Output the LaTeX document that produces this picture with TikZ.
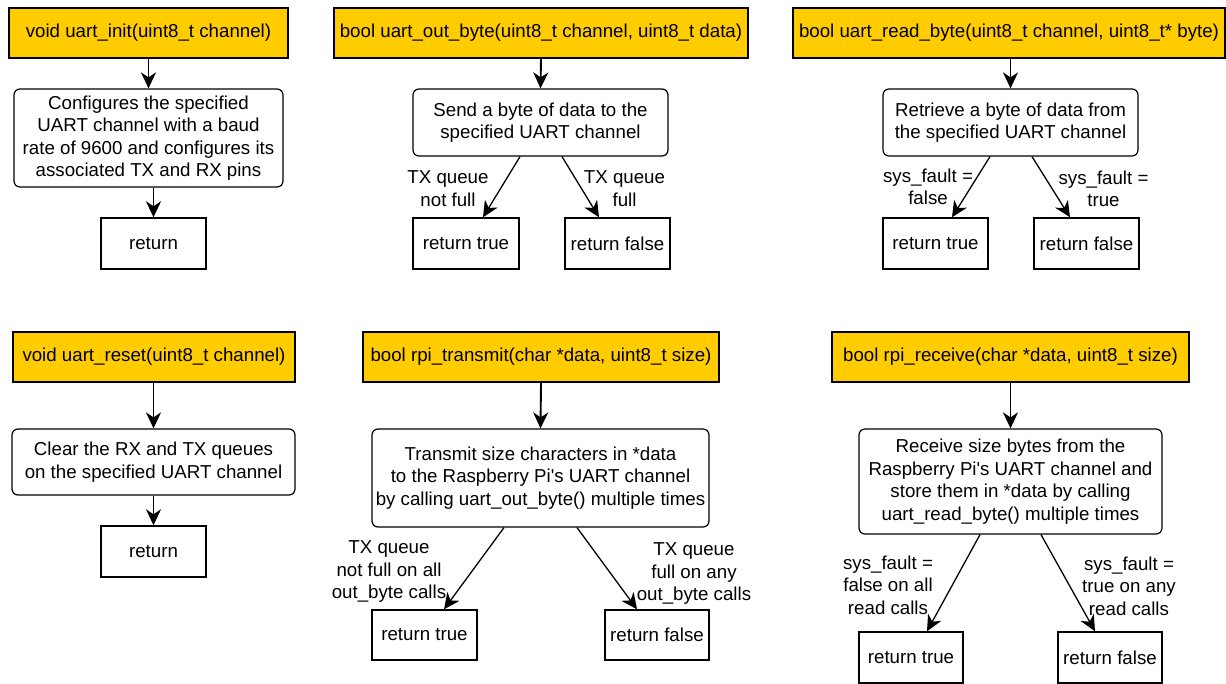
\documentclass[tikz,border=0pt]{standalone}
\usepackage{fontspec}
\setmainfont{Liberation Sans}
\usetikzlibrary{arrows.meta}
\definecolor{hdr}{HTML}{FFCC00}
\tikzset{
  every node/.style={font=\fontsize{18.7}{22.5}\selectfont, inner sep=0pt, align=center},
  yel/.style={draw=black, fill=hdr, line width=1.4pt, minimum height=50pt},
  rbox/.style={draw=black, fill=white, rounded corners=6pt, line width=1.2pt},
  ret/.style={draw=black, fill=white, line width=1.4pt, minimum height=51pt},
  lbl/.style={},
  varr/.style={line width=1.9pt, -{Stealth[length=16pt,width=15pt,inset=5pt]}},
  darr/.style={line width=1.3pt, -{Stealth[length=16pt,width=15pt,inset=5pt]}}
}
\begin{document}
\begin{tikzpicture}[x=1pt,y=-1pt]
\useasboundingbox (0,0) rectangle (1226,684);
\fill[white] (0,0) rectangle (1226,684);
% A
\node[yel, minimum width=279pt] (A1) at (148.5,33) {void uart\_init(uint8\_t channel)};
\node[rbox, minimum width=269pt, minimum height=98pt] (A2) at (148.5,138) {Configures the specified\\UART channel with a baud\\rate of 9600 and configures its\\associated TX and RX pins};
\node[ret, minimum width=105pt] (A3) at (153.5,243.5) {return};
\draw[varr] (A1.south) -- (A2.north);
\draw[varr] (A2.south -| A3.north) -- (A3.north);
% B
\node[yel, minimum width=414pt] (B1) at (541,33) {bool uart\_out\_byte(uint8\_t channel, uint8\_t data)};
\node[rbox, minimum width=255pt, minimum height=67pt] (B2) at (540.5,122.5) {Send a byte of data to the\\specified UART channel};
\node[ret, minimum width=106pt] (Bt) at (466,243.5) {return true};
\node[ret, minimum width=105pt] (Bf) at (617.5,243.5) {return false};
\draw[varr] (B1.south) -- (B2.north);
\draw[darr] ([xshift=-20.5pt]B2.south) -- ([xshift=17pt]Bt.north);
\draw[darr] ([xshift=21.5pt]B2.south) -- ([xshift=-18.5pt]Bf.north);
\node[lbl] (Bl) at (448,188.5) {TX queue\\not full};
\node[lbl] (Br) at (624.5,188.5) {TX queue\\full};
% C
\node[yel, minimum width=432pt] (C1) at (1009,33) {bool uart\_read\_byte(uint8\_t channel, uint8\_t* byte)};
\node[rbox, minimum width=255pt, minimum height=67pt] (C2) at (1010.5,122.5) {Retrieve a byte of data from\\the specified UART channel};
\node[ret, minimum width=105pt] (Ct) at (935.5,243.5) {return true};
\node[ret, minimum width=105pt] (Cf) at (1086.5,243.5) {return false};
\draw[varr] (C1.south -| C2.north) -- (C2.north);
\draw[darr] ([xshift=-20.5pt]C2.south) -- ([xshift=16.5pt]Ct.north);
\draw[darr] ([xshift=21.5pt]C2.south) -- ([xshift=-16.5pt]Cf.north);
\node[lbl] (Cl) at (928,187) {sys\_fault =\\false};
\node[lbl] (Cr) at (1103.5,189) {sys\_fault =\\true};
% D
\node[yel, minimum width=282pt] (D1) at (154,357) {void uart\_reset(uint8\_t channel)};
\node[rbox, minimum width=283pt, minimum height=66pt] (D2) at (153.5,462) {Clear the RX and TX queues\\on the specified UART channel};
\node[ret, minimum width=105pt] (D3) at (153.5,551.5) {return};
\draw[varr] (D1.south -| D2.north) -- (D2.north);
\draw[varr] (D2.south) -- (D3.north);
% E
\node[yel, minimum width=356pt] (E1) at (541,357) {bool rpi\_transmit(char *data, uint8\_t size)};
\node[rbox, minimum width=337pt, minimum height=98pt] (E2) at (540.5,478) {Transmit size characters in *data\\to the Raspberry Pi\textquotesingle s UART channel\\by calling uart\_out\_byte() multiple times};
\node[ret, minimum width=105pt, minimum height=50pt] (Et) at (424.5,635) {return true};
\node[ret, minimum width=104pt, minimum height=50pt] (Ef) at (657,635) {return false};
\draw[varr] (E1.south) -- (E2.north);
\draw[darr] ([xshift=-36.5pt]E2.south) -- ([xshift=19.5pt]Et.north);
\draw[darr] ([xshift=36.5pt]E2.south) -- ([xshift=-20pt]Ef.north);
\node[lbl] (El) at (389,572) {TX queue\\not full on all\\out\_byte calls};
\node[lbl] (Er) at (694,574) {TX queue\\full on any\\out\_byte calls};
% F
\node[yel, minimum width=357pt] (F1) at (1010.5,357) {bool rpi\_receive(char *data, uint8\_t size)};
\node[rbox, minimum width=303pt, minimum height=105pt] (F2) at (1010.5,481.5) {Receive size bytes from the\\Raspberry Pi\textquotesingle s UART channel and\\store them in *data by calling\\uart\_read\_byte() multiple times};
\node[ret, minimum width=104pt] (Ft) at (911,657.5) {return true};
\node[ret, minimum width=104pt] (Ff) at (1110,657.5) {return false};
\draw[varr] (F1.south) -- (F2.north);
\draw[darr] ([xshift=-30.5pt]F2.south) -- ([xshift=16pt]Ft.north);
\draw[darr] ([xshift=30.5pt]F2.south) -- ([xshift=-15pt]Ff.north);
\node[lbl] (Fl) at (888,585) {sys\_fault =\\false on all\\read calls};
\node[lbl] (Fr) at (1129,586) {sys\_fault =\\true on any\\read calls};
\end{tikzpicture}
\end{document}
